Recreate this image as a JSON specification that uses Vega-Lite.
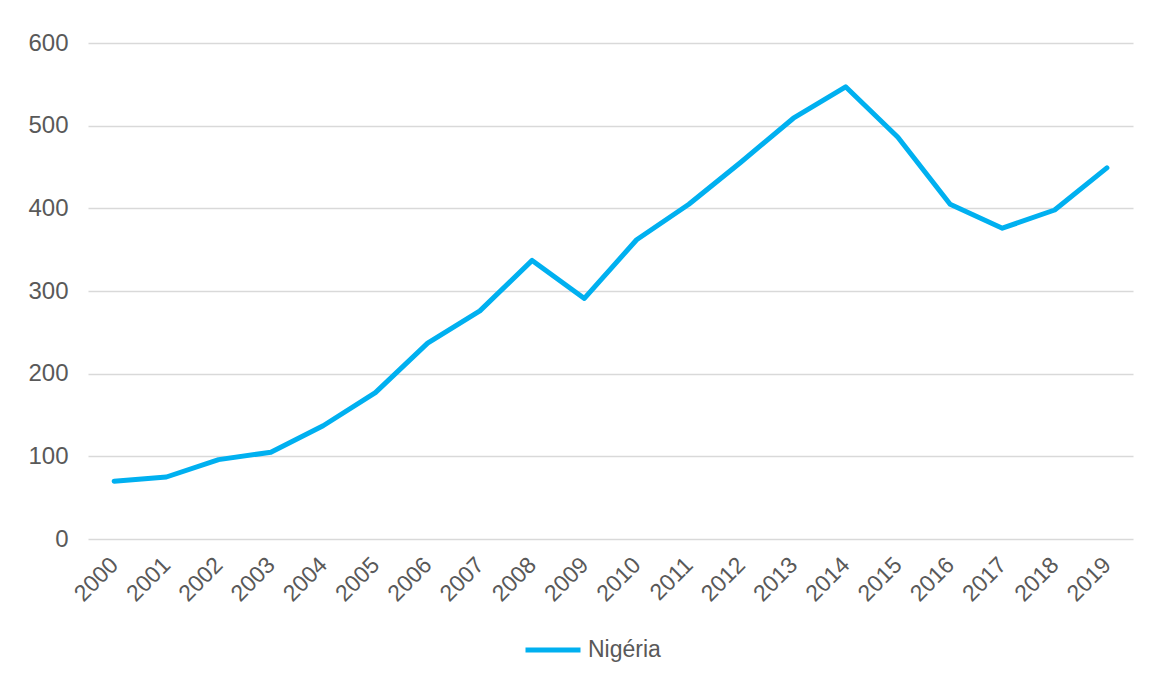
{
  "$schema": "https://vega.github.io/schema/vega-lite/v6.json",
  "width": 1045,
  "height": 496,
  "padding": {"left": 26, "top": 31, "right": 18, "bottom": 0},
  "background": "white",
  "data": {
    "values": [
      {"ano": "2000", "valor": 70, "pais": "Nigéria"},
      {"ano": "2001", "valor": 75, "pais": "Nigéria"},
      {"ano": "2002", "valor": 96, "pais": "Nigéria"},
      {"ano": "2003", "valor": 105, "pais": "Nigéria"},
      {"ano": "2004", "valor": 137, "pais": "Nigéria"},
      {"ano": "2005", "valor": 177, "pais": "Nigéria"},
      {"ano": "2006", "valor": 237, "pais": "Nigéria"},
      {"ano": "2007", "valor": 276, "pais": "Nigéria"},
      {"ano": "2008", "valor": 337, "pais": "Nigéria"},
      {"ano": "2009", "valor": 291, "pais": "Nigéria"},
      {"ano": "2010", "valor": 362, "pais": "Nigéria"},
      {"ano": "2011", "valor": 405, "pais": "Nigéria"},
      {"ano": "2012", "valor": 456, "pais": "Nigéria"},
      {"ano": "2013", "valor": 509, "pais": "Nigéria"},
      {"ano": "2014", "valor": 547, "pais": "Nigéria"},
      {"ano": "2015", "valor": 486, "pais": "Nigéria"},
      {"ano": "2016", "valor": 405, "pais": "Nigéria"},
      {"ano": "2017", "valor": 376, "pais": "Nigéria"},
      {"ano": "2018", "valor": 398, "pais": "Nigéria"},
      {"ano": "2019", "valor": 449, "pais": "Nigéria"}
    ]
  },
  "mark": {"type": "line", "strokeWidth": 5, "strokeCap": "round", "strokeJoin": "round"},
  "encoding": {
    "x": {
      "field": "ano",
      "type": "ordinal",
      "scale": {"type": "point", "padding": 0.5},
      "axis": {
        "title": null,
        "labelAngle": -45,
        "labelAlign": "right",
        "labelBaseline": "middle",
        "labelPadding": 22,
        "ticks": false,
        "domain": false,
        "grid": false,
        "labelFont": "Liberation Sans",
        "labelFontSize": 23,
        "labelColor": "#595959"
      }
    },
    "y": {
      "field": "valor",
      "type": "quantitative",
      "scale": {"domain": [0, 600], "nice": false},
      "axis": {
        "title": null,
        "values": [0, 100, 200, 300, 400, 500, 600],
        "ticks": false,
        "domain": false,
        "grid": true,
        "gridColor": "#d9d9d9",
        "gridWidth": 1.5,
        "labelPadding": 20,
        "minExtent": 62,
        "maxExtent": 62,
        "labelFont": "Liberation Sans",
        "labelFontSize": 24,
        "labelColor": "#595959"
      }
    },
    "color": {
      "field": "pais",
      "type": "nominal",
      "scale": {"range": ["#00B0F0"]},
      "legend": {
        "title": null,
        "orient": "none",
        "legendX": 435,
        "legendY": 577,
        "padding": 0,
        "symbolType": "stroke",
        "symbolSize": 3025,
        "symbolStrokeWidth": 5,
        "labelOffset": 5,
        "labelFont": "Liberation Sans",
        "labelFontSize": 23,
        "labelColor": "#595959"
      }
    }
  },
  "config": {"view": {"stroke": null}}
}
